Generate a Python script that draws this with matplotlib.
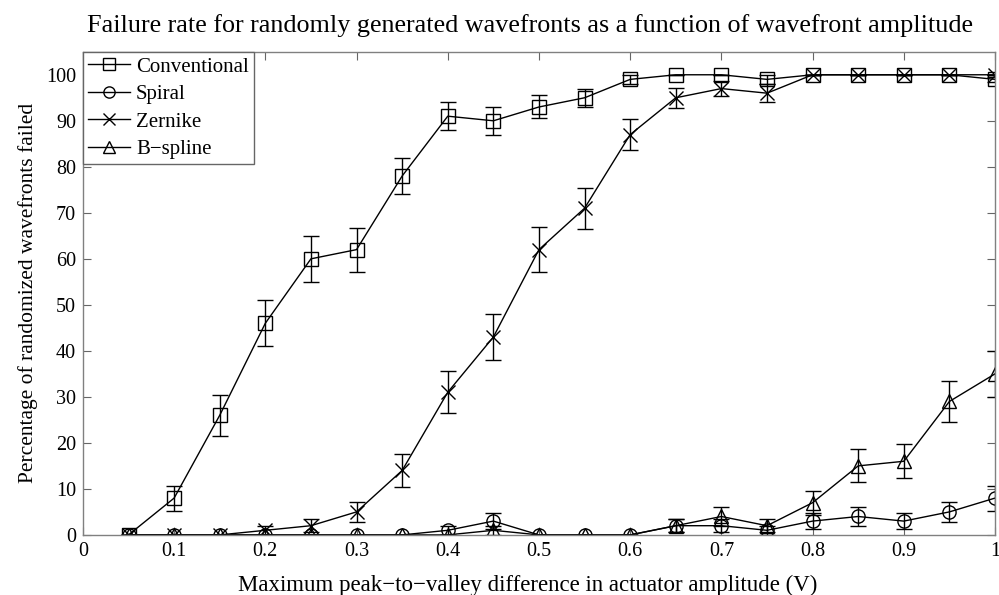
import numpy as np
from matplotlib import pyplot as plt

x = [0.05, 0.1, 0.15, 0.2, 0.25, 0.3, 0.35, 0.4, 0.45, 0.5,
     0.55, 0.6, 0.65, 0.7, 0.75, 0.8, 0.85, 0.9, 0.95, 1.0]

conventional = [0, 8, 26, 46, 60, 62, 78, 91, 90, 93,
                95, 99, 100, 100, 99, 100, 100, 100, 100, 99]
conventional_err = [0, 2.7, 4.4, 5, 5, 4.8, 4, 3, 3, 2.5,
                    2, 1, 0, 0, 1, 0, 0, 0, 0, 0.5]

spiral = [0, 0, 0, 0, 0, 0, 0, 1, 3, 0,
          0, 0, 2, 2, 1, 3, 4, 3, 5, 8]
spiral_err = [0, 0, 0, 0, 0, 0, 0, 1, 1.7, 0,
              0, 0, 1.4, 1.4, 1, 1.7, 2, 1.7, 2.2, 2.7]

zernike = [0, 0, 0, 1, 2, 5, 14, 31, 43, 62,
           71, 87, 95, 97, 96, 100, 100, 100, 100, 100]
zernike_err = [0, 0, 0, 1, 1.4, 2.2, 3.5, 4.6, 5, 4.9,
               4.5, 3.4, 2.2, 1.7, 2, 0, 0, 0, 0, 0]

bspline = [0, 0, 0, 0, 0, 0, 0, 0, 1, 0,
           0, 0, 2, 4, 2, 7, 15, 16, 29, 35]
bspline_err = [0, 0, 0, 0, 0, 0, 0, 0, 1, 0,
               0, 0, 1.4, 2, 1.4, 2.6, 3.6, 3.7, 4.5, 5]

series = [
    ('Conventional', conventional, conventional_err, 's'),
    ('Spiral', spiral, spiral_err, 'o'),
    ('Zernike', zernike, zernike_err, 'x'),
    ('B\u2212spline', bspline, bspline_err, '^'),
]

plt.rcParams['font.family'] = ['Liberation Serif', 'DejaVu Serif']


def main():
    fig = plt.figure(figsize=(9.99, 5.95), dpi=100)
    ax = fig.add_axes([0.083, 0.101, 0.913, 0.812])

    for name, y, err, m in series:
        ax.errorbar(x, y, yerr=err, color='black', lw=1.0, marker=m,
                    markersize=9.5, markerfacecolor='none', markeredgewidth=1.0,
                    capsize=6, elinewidth=1.0, capthick=1.0, label=name)

    ax.set_xlim(0, 1)
    ax.set_ylim(0, 105)
    ax.set_xticks(np.arange(0, 1.01, 0.1))
    ax.set_xticklabels(['0'] + ['%.1f' % v for v in np.arange(0.1, 0.95, 0.1)] + ['1'])
    ax.set_yticks(np.arange(0, 101, 10))
    ax.tick_params(direction='in', top=True, right=True, labelsize=14.5,
                   length=6, color='#666666', pad=5)
    for s in ax.spines.values():
        s.set_color('#808080')
        s.set_linewidth(1.0)

    ax.set_title('Failure rate for randomly generated wavefronts as a function of wavefront amplitude',
                 fontsize=18.8, pad=14, x=0.49)
    ax.set_xlabel('Maximum peak\u2212to\u2212valley difference in actuator amplitude (V)',
                  fontsize=16.5)
    ax.xaxis.set_label_coords(0.488, -0.105)
    ax.xaxis.label.set_va('center')
    ax.set_ylabel('Percentage of randomized wavefronts failed', fontsize=15.5, labelpad=6)

    # legend without the error bars, line + marker only
    handles, labels = ax.get_legend_handles_labels()
    handles = [h[0] for h in handles]
    leg = ax.legend(handles, labels, loc='upper left', fontsize=15, fancybox=False,
                    framealpha=1, borderaxespad=0, handlelength=2.0,
                    handletextpad=0.3, borderpad=0.25, labelspacing=0.38,
                    markerscale=0.85)
    leg.get_frame().set_edgecolor('#666666')
    leg.get_frame().set_linewidth(1.0)

    fig.savefig('out.png', dpi=100)


if __name__ == "__main__":
    main()
